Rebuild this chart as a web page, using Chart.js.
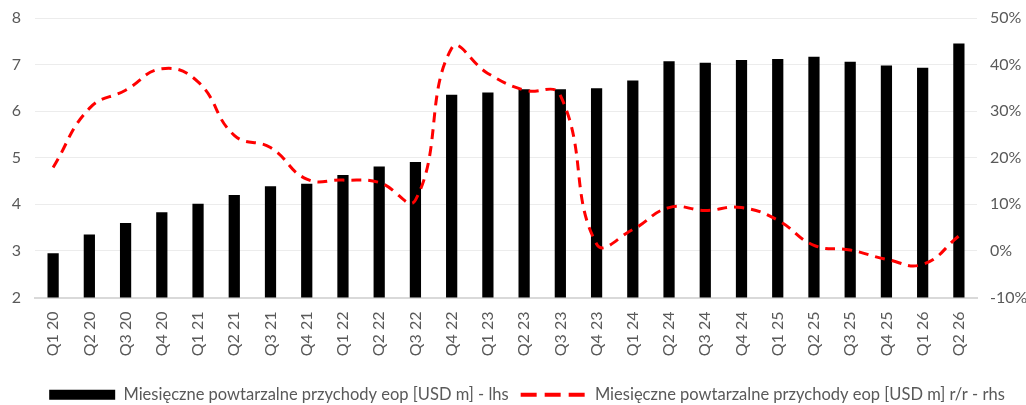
<!DOCTYPE html>
<html>
<head>
<meta charset="utf-8">
<script src="https://cdn.jsdelivr.net/npm/chart.js@4.4.1/dist/chart.umd.min.js"></script>
<style>
html,body{margin:0;padding:0;background:#fff;}
#wrap{width:1026px;height:405px;position:relative;}
</style>
</head>
<body>
<div id="wrap"><canvas id="c"></canvas></div>
<script>
const categories = ['Q1 20','Q2 20','Q3 20','Q4 20','Q1 21','Q2 21','Q3 21','Q4 21','Q1 22','Q2 22','Q3 22','Q4 22','Q1 23','Q2 23','Q3 23','Q4 23','Q1 24','Q2 24','Q3 24','Q4 24','Q1 25','Q2 25','Q3 25','Q4 25','Q1 26','Q2 26'];
const mrrValues = [2.95,3.35,3.60,3.83,4.01,4.20,4.39,4.44,4.63,4.81,4.91,6.35,6.40,6.47,6.47,6.49,6.66,7.07,7.04,7.10,7.12,7.17,7.06,6.98,6.93,7.45];
const yoyValues = [17.9,30.6,34.5,39.1,36.3,24.8,22.2,15.4,15.2,14.7,10.9,43.5,38.1,34.5,33.4,1.5,4.6,9.3,8.7,9.3,6.6,1.2,0.2,-1.8,-2.9,3.2];
const leftTicks = [2,3,4,5,6,7,8];
const rightTicks = [-10,0,10,20,30,40,50];
const seriesNames = ['Miesięczne powtarzalne przychody eop [USD m] - lhs','Miesięczne powtarzalne przychody eop [USD m] r/r - rhs'];

const FONT = 'Lato';
const GREY = '#595959';

const legendShift = {
  id: 'legendShift',
  afterLayout(chart) {
    const l = chart.legend;
    if (!l) return;
    l.top += 8; l.bottom += 8;
    l.left += 12; l.right += 12;
  }
};

new Chart(document.getElementById('c'), {
  plugins: [legendShift],
  data: {
    labels: categories,
    datasets: [
      {
        type: 'line',
        label: seriesNames[1],
        data: yoyValues,
        yAxisID: 'y1',
        borderColor: '#ff0000',
        backgroundColor: '#ff0000',
        borderWidth: 3,
        borderDash: [10, 7],
        pointRadius: 0,
        tension: 0.45,
        fill: false,
        order: 0
      },
      {
        type: 'bar',
        label: seriesNames[0],
        data: mrrValues,
        yAxisID: 'y',
        backgroundColor: '#000000',
        borderWidth: 0,
        barPercentage: 0.62,
        categoryPercentage: 0.5,
        order: 1
      }
    ]
  },
  options: {
    responsive: true,
    maintainAspectRatio: false,
    animation: false,
    layout: { padding: { top: 0, left: 4, right: 0, bottom: 0 } },
    plugins: {
      tooltip: { enabled: false },
      legend: {
        position: 'bottom',
        labels: {
          font: { family: FONT, size: 16.5 },
          color: GREY,
          usePointStyle: true,
          pointStyleWidth: 66,
          boxHeight: 10,
          padding: 12,
          generateLabels: (chart) => {
            const ds = chart.data.datasets;
            return [
              { text: ds[1].label, fillStyle: '#000000', strokeStyle: '#000000', lineWidth: 0, pointStyle: 'rect', datasetIndex: 1, fontColor: GREY },
              { text: ds[0].label, fillStyle: '#ff0000', strokeStyle: '#ff0000', lineWidth: 4, lineDash: [16, 8], pointStyle: 'line', datasetIndex: 0, fontColor: GREY }
            ];
          }
        }
      }
    },
    scales: {
      x: {
        grid: { display: false, drawTicks: false },
        border: { display: true, color: '#d9d9d9', width: 2 },
        ticks: {
          font: { family: FONT, size: 16 },
          color: GREY,
          minRotation: 90,
          maxRotation: 90,
          padding: 14,
          autoSkip: false
        },
        afterFit: (s) => { s.height = 69; }
      },
      y: {
        position: 'left',
        min: 2, max: 8,
        afterBuildTicks: (s) => { s.ticks = leftTicks.map(v => ({ value: v })); },
        grid: { color: '#ececec', lineWidth: 1, drawTicks: false },
        border: { display: false },
        ticks: {
          font: { family: FONT, size: 16 },
          color: GREY,
          padding: 14
        },
        afterFit: (s) => { s.width = 31; s.paddingTop = 18; }
      },
      y1: {
        position: 'right',
        min: -10, max: 50,
        afterBuildTicks: (s) => { s.ticks = rightTicks.map(v => ({ value: v })); },
        grid: { display: false, drawTicks: false },
        border: { display: false },
        ticks: {
          font: { family: FONT, size: 16 },
          color: GREY,
          padding: 13,
          callback: (v) => v + '%'
        },
        afterFit: (s) => { s.width = 49; s.paddingTop = 18; }
      }
    }
  }
});
</script>
</body>
</html>
